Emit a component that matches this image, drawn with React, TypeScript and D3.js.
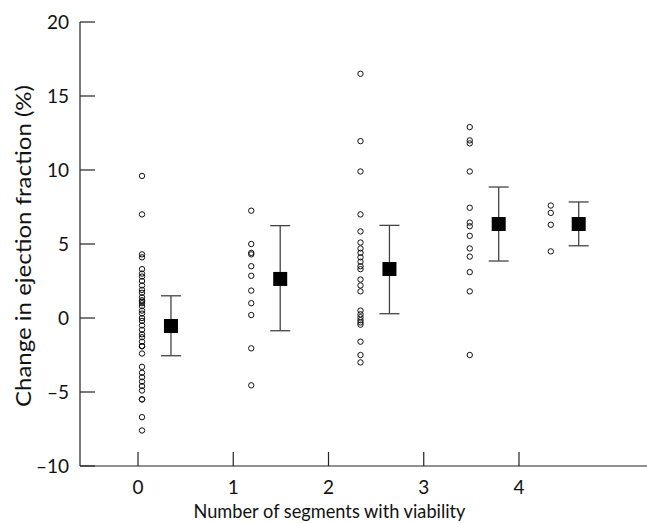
import React from "react";
import * as d3 from "d3";

const W = 647;
const H = 523;

const categories = [0, 1, 2, 3, 4];
const yTicks = [-10, -5, 0, 5, 10, 15, 20];

// x positions (in axis units) where each group's raw points and mean bar are drawn
const pointGroupX = [0.042, 1.189, 2.336, 3.483, 4.334];
const meanGroupX = [0.346, 1.493, 2.64, 3.787, 4.627];

const group0 = [9.6, 7.0, 4.3, 4.1, 3.3, 3.0, 2.8, 2.5, 2.2, 1.9, 1.7, 1.4, 1.2, 1.1, 1.0, 0.8, 0.5, 0.3, 0.0, -0.2, -0.5, -0.8, -1.1, -1.3, -1.6, -1.9, -1.9, -1.9, -2.4, -3.3, -3.7, -4.0, -4.3, -4.6, -4.9, -5.5, -5.5, -6.7, -7.6];
const group1 = [7.25, 5.0, 4.4, 4.3, 3.5, 2.85, 1.85, 1.0, 0.2, -2.05, -4.55];
const group2 = [16.5, 11.95, 9.9, 7.0, 5.85, 5.1, 4.7, 4.4, 4.1, 3.8, 3.5, 3.3, 2.6, 2.2, 1.8, 0.5, 0.25, 0.05, -0.15, -0.3, -0.45, -1.6, -2.5, -3.0];
const group3 = [12.9, 12.0, 11.8, 9.9, 7.45, 6.45, 6.2, 5.55, 4.7, 4.15, 3.1, 1.8, -2.5];
const group4 = [7.6, 7.1, 6.3, 4.5];
const groups = [group0, group1, group2, group3, group4];

const means = [-0.54, 2.64, 3.31, 6.35, 6.35];
const upper = [1.5, 6.24, 6.26, 8.85, 7.84];
const lower = [-2.55, -0.86, 0.29, 3.85, 4.88];

const xTitle = "Number of segments with viability";
const yTitle = "Change in ejection fraction (%)";

export default function App() {
  const x = d3.scaleLinear().domain([-0.609, 5.344]).range([80, 647]);
  const y = d3.scaleLinear().domain([-10, 20]).range([466, 22]);
  const font = "Lato, 'DejaVu Sans', sans-serif";
  const axisColor = "#222";
  const tickLen = 15;
  const sq = 14;
  const cap = 10;

  return (
    <svg
      width={W}
      height={H}
      style={{ position: "absolute", left: 0, top: 0, background: "#fff" }}
      fontFamily={font}
    >
      {/* y axis */}
      <line x1={x(-0.609)} x2={x(-0.609)} y1={y(20)} y2={y(-10)} stroke={axisColor} strokeWidth={1.2} />
      {yTicks.map((t) => (
        <g key={"yt" + t}>
          <line x1={x(-0.609)} x2={x(-0.609) + tickLen} y1={y(t)} y2={y(t)} stroke={axisColor} strokeWidth={1.2} />
          <text x={x(-0.609) - 11} y={y(t)} dy="0.35em" textAnchor="end" fontSize={19} fill="#111">
            {t < 0 ? "\u2013" + Math.abs(t) : String(t)}
          </text>
        </g>
      ))}
      {/* x axis */}
      <line x1={x(-0.609)} x2={x(5.344)} y1={y(-10)} y2={y(-10)} stroke={axisColor} strokeWidth={1.2} />
      {categories.map((c) => (
        <g key={"xt" + c}>
          <line x1={x(c)} x2={x(c)} y1={y(-10)} y2={y(-10) - 14} stroke={axisColor} strokeWidth={1.2} />
          <text x={x(c)} y={y(-10) + 28} textAnchor="middle" fontSize={19} fill="#111">
            {String(c)}
          </text>
        </g>
      ))}
      <text x={329.5} y={518} textAnchor="middle" fontSize={19} fill="#111" textLength={272} lengthAdjust="spacingAndGlyphs">
        {xTitle}
      </text>
      <text
        transform={`translate(31, 246) rotate(-90)`}
        textAnchor="middle"
        fontSize={22}
        fill="#111"
        textLength={322}
        lengthAdjust="spacingAndGlyphs"
      >
        {yTitle}
      </text>

      {/* raw points */}
      {groups.map((g, gi) =>
        g.map((v, i) => (
          <circle
            key={`p${gi}-${i}`}
            cx={x(pointGroupX[gi])}
            cy={y(v)}
            r={2.7}
            fill="none"
            stroke="#111"
            strokeWidth={1}
          />
        ))
      )}

      {/* mean and error bars */}
      {categories.map((c, i) => {
        const cx = x(meanGroupX[i]);
        return (
          <g key={"m" + c}>
            <line x1={cx} x2={cx} y1={y(upper[i])} y2={y(lower[i])} stroke="#444" strokeWidth={1.3} />
            <line x1={cx - cap} x2={cx + cap} y1={y(upper[i])} y2={y(upper[i])} stroke="#444" strokeWidth={1.3} />
            <line x1={cx - cap} x2={cx + cap} y1={y(lower[i])} y2={y(lower[i])} stroke="#444" strokeWidth={1.3} />
            <rect x={cx - sq / 2} y={y(means[i]) - sq / 2} width={sq} height={sq} fill="#000" />
          </g>
        );
      })}
    </svg>
  );
}
